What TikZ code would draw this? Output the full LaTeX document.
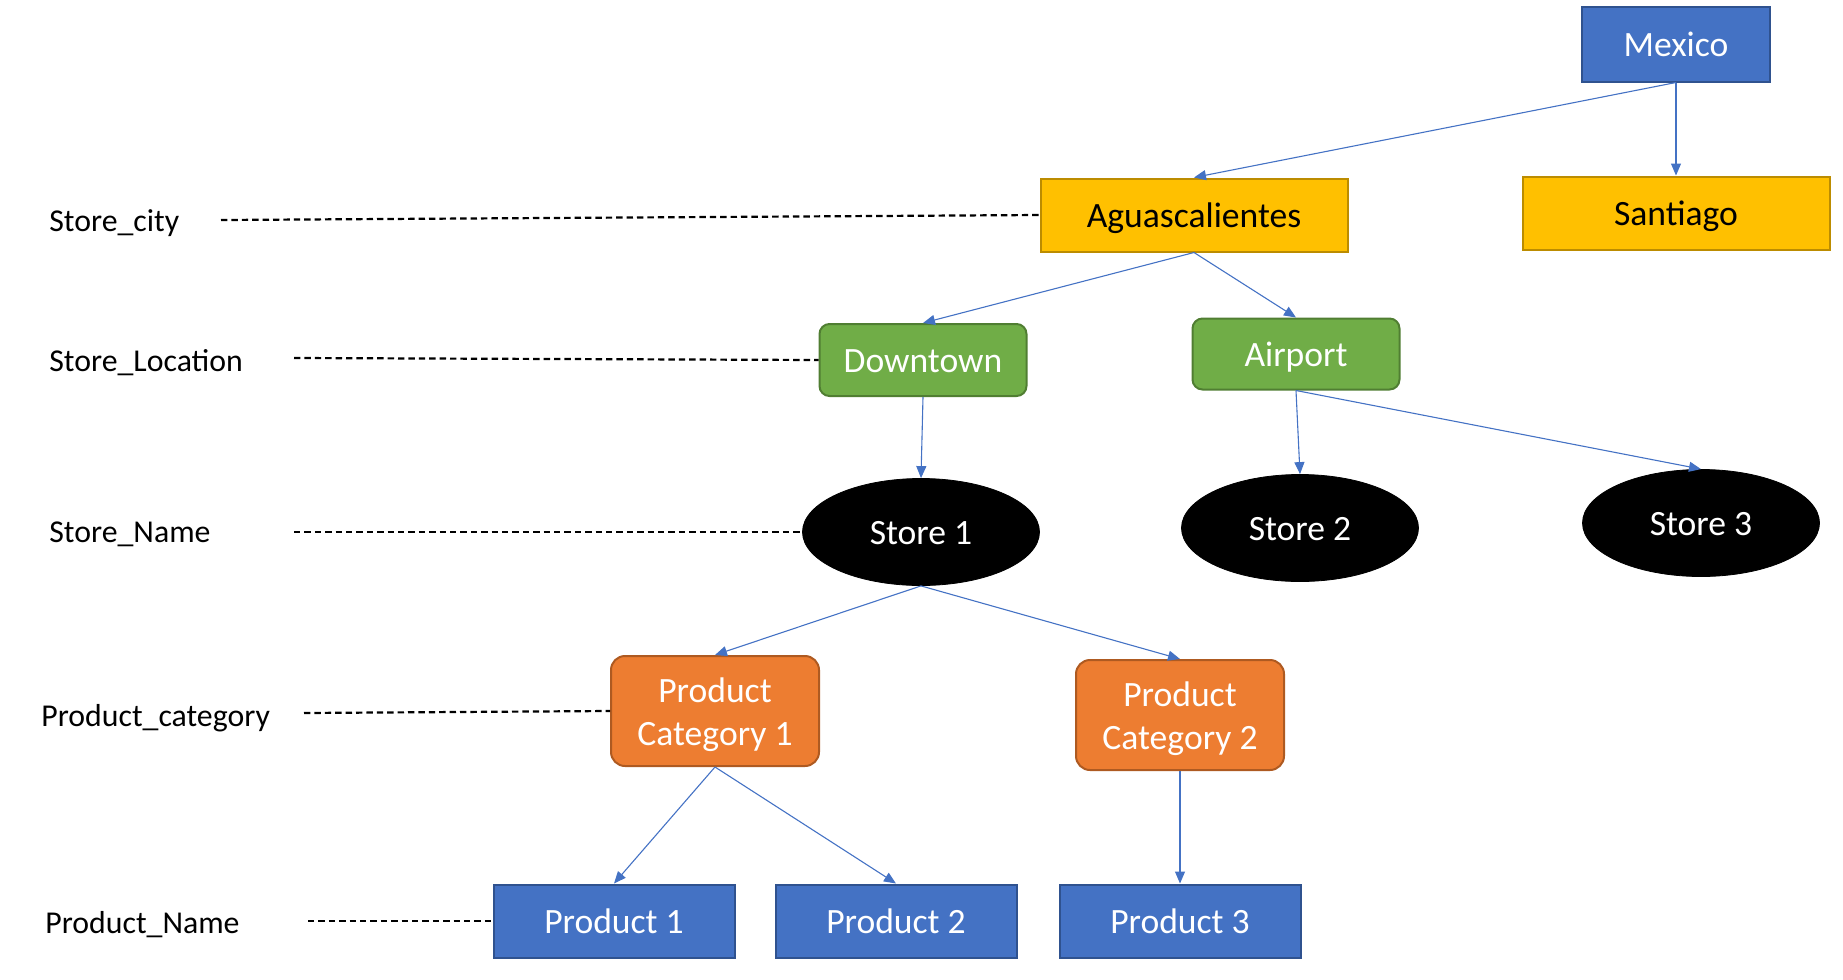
\documentclass[tikz,border=0pt]{standalone}
\usepackage{fontspec}
\setmainfont{Carlito}
\usetikzlibrary{arrows.meta,shapes.geometric}
\definecolor{cblue}{HTML}{4472C4}
\definecolor{cblueb}{HTML}{2F528F}
\definecolor{cgold}{HTML}{FFC000}
\definecolor{cgoldb}{HTML}{BC8C00}
\definecolor{cgreen}{HTML}{70AD47}
\definecolor{cgreenb}{HTML}{507E32}
\definecolor{corange}{HTML}{ED7D31}
\definecolor{corangeb}{HTML}{AE5A21}
\tikzset{
  nodefont/.style={font=\fontsize{17.8}{21.6}\selectfont},
  oneline/.style={text height=12.8pt, text depth=0pt},
  box/.style={nodefont, rectangle, inner sep=0pt, line width=1pt, align=center},
  bluebox/.style={box, oneline, fill=cblue, draw=cblueb, text=white, minimum width=120.5pt, minimum height=36.5pt},
  goldbox/.style={box, oneline, fill=cgold, draw=cgoldb, text=black, minimum width=153.5pt, minimum height=36.5pt},
  greenbox/.style={box, oneline, fill=cgreen, draw=cgreenb, text=white, rounded corners=5pt, minimum width=103.5pt, minimum height=35.5pt},
  orangebox/.style={box, fill=corange, draw=corangeb, text=white, rounded corners=7pt, minimum width=104pt, minimum height=55pt, text height=34.4pt, text depth=0pt},
  storenode/.style={nodefont, oneline, ellipse, fill=black, draw=black, text=white, inner sep=0pt, minimum width=118.5pt, minimum height=53.5pt},
  levellabel/.style={font=\fontsize{15.9}{19}\selectfont, anchor=west, inner sep=0pt},
  conn/.style={draw=cblue, line width=0.55pt, -{Triangle[length=6pt,width=5pt]}},
  guide/.style={draw=black, line width=1.1pt, dash pattern=on 3.2pt off 2pt}
}
\begin{document}
\begin{tikzpicture}[x=0.5pt,y=-0.5pt]
\useasboundingbox (0,0) rectangle (1843,980);
% tree nodes
\node[bluebox, minimum width=94pt, minimum height=37.5pt] (mex) at (1676,44) {Mexico};
\node[goldbox] (agu) at (1194,215) {Aguascalientes};
\node[goldbox] (san) at (1676,213) {Santiago};
\node[greenbox, minimum height=36pt] (down) at (923,360) {Downtown};
\node[greenbox] (air) at (1296,354) {Airport};
\node[storenode] (s1) at (921,532) {Store 1};
\node[storenode] (s2) at (1300,528) {Store 2};
\node[storenode] (s3) at (1701,523) {Store 3};
\node[orangebox] (pc1) at (715,711) {Product\\Category 1};
\node[orangebox] (pc2) at (1180,715) {Product\\Category 2};
\node[bluebox] (p1) at (614,921) {Product 1};
\node[bluebox] (p2) at (896,921) {Product 2};
\node[bluebox] (p3) at (1180,921) {Product 3};
% level labels
\node[levellabel] (lcity) at (49,223.5) {Store\_city};
\node[levellabel] (lloc) at (49,362.5) {Store\_Location};
\node[levellabel] (lname) at (49,534.5) {Store\_Name};
\node[levellabel] (lcat) at (41,718.5) {Product\_category};
\node[levellabel] (lprod) at (45,924.5) {Product\_Name};
% guide lines
\coordinate (gcity) at (221,220);
\coordinate (gloc) at (294,358);
\coordinate (gname) at (294,532);
\coordinate (gcat) at (304,713);
\coordinate (gprod) at (308,921);
\draw[guide] (gcity) -- (agu.west);
\draw[guide] (gloc) -- (down.west);
\draw[guide] (gname) -- (s1.west);
\draw[guide] (gcat) -- (pc1.west);
\draw[guide] (gprod) -- (p1.west);
% connectors
\draw[conn] (mex.south) -- (agu.north);
\draw[conn] (mex.south) -- (san.north);
\draw[conn] (agu.south) -- (down.north);
\draw[conn] (agu.south) -- (air.north);
\draw[conn] (down.south) -- (s1.north);
\draw[conn] (air.south) -- (s2.north);
\draw[conn] (air.south) -- (s3.north);
\draw[conn] (s1.south) -- (pc1.north);
\draw[conn] (s1.south) -- (pc2.north);
\draw[conn] (pc1.south) -- (p1.north);
\draw[conn] (pc1.south) -- (p2.north);
\draw[conn] (pc2.south) -- (p3.north);
\end{tikzpicture}
\end{document}
